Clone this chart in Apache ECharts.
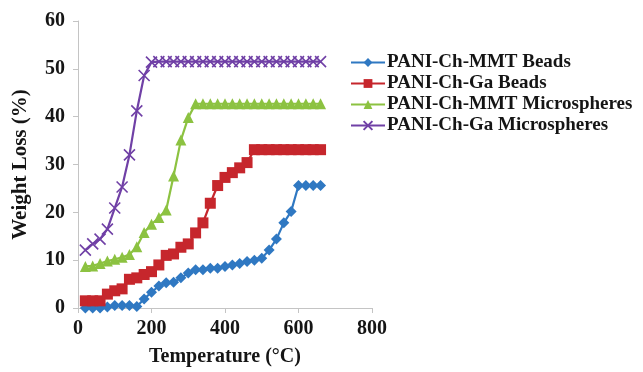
<!DOCTYPE html>
<html>
<head>
<meta charset="utf-8">
<script src="https://cdn.jsdelivr.net/npm/echarts@6/dist/echarts.min.js"></script>
<style>
  html, body { margin: 0; padding: 0; background: #fff; }
  #chart { width: 643px; height: 372px; }
</style>
</head>
<body>
<div id="chart"></div>
<script>
// Temperature steps (°C) shared by all four samples
const temperatures = [20, 40, 60, 80, 100, 120, 140, 160, 180, 200, 220, 240, 260, 280, 300, 320,
  340, 360, 380, 400, 420, 440, 460, 480, 500, 520, 540, 560, 580, 600, 620, 640, 660];

// Weight loss (%) for each sample
const mmtBeads = [0, 0, 0, 0.2, 0.5, 0.5, 0.5, 0.3, 1.9, 3.3, 4.6, 5.3, 5.4, 6.3, 7.3, 8.0,
  8.0, 8.3, 8.3, 8.7, 9.0, 9.3, 9.7, 10.0, 10.4, 12.1, 14.4, 17.8, 20.2, 25.6, 25.6, 25.6, 25.6];
const gaBeads = [1.5, 1.5, 1.5, 2.9, 3.6, 4.0, 6.0, 6.3, 7.0, 7.6, 9.0, 11.0, 11.3, 12.7, 13.4, 15.7,
  17.8, 21.9, 25.6, 27.3, 28.3, 29.3, 30.4, 33.1, 33.1, 33.1, 33.1, 33.1, 33.1, 33.1, 33.1, 33.1, 33.1];
const mmtMicrospheres = [8.7, 8.8, 9.3, 9.8, 10.2, 10.6, 11.2, 12.8, 15.8, 17.5, 18.9, 20.5, 27.6, 35.1, 39.8, 42.7,
  42.7, 42.7, 42.7, 42.7, 42.7, 42.7, 42.7, 42.7, 42.7, 42.7, 42.7, 42.7, 42.7, 42.7, 42.7, 42.7, 42.7];
const gaMicrospheres = [12.1, 13.4, 14.4, 16.5, 20.9, 25.3, 32.0, 41.2, 48.6, 51.4, 51.5, 51.5, 51.5, 51.5, 51.5, 51.5,
  51.5, 51.5, 51.5, 51.5, 51.5, 51.5, 51.5, 51.5, 51.5, 51.5, 51.5, 51.5, 51.5, 51.5, 51.5, 51.5, 51.5];

const seriesNames = ['PANI-Ch-MMT Beads', 'PANI-Ch-Ga Beads', 'PANI-Ch-MMT Microspheres', 'PANI-Ch-Ga Microspheres'];
const xTicks = { min: 0, max: 800, interval: 200 };
const yTicks = { min: 0, max: 60, interval: 10 };

const serif = '"Liberation Serif", "DejaVu Serif", serif';
const crossPath = 'path://M0,0L10,10M10,0L0,10';

function pairs(values) {
  return temperatures.map((t, i) => [t, values[i]]);
}

function lineSeries(name, values, color, symbol, size, extra) {
  return Object.assign({
    name: name,
    type: 'line',
    data: pairs(values),
    symbol: symbol,
    symbolSize: size,
    showAllSymbol: true,
    lineStyle: { color: color, width: 2.2 },
    itemStyle: { color: color },
    emphasis: { disabled: true },
    animation: false
  }, extra || {});
}

const chart = echarts.init(document.getElementById('chart'), null, { renderer: 'canvas' });

chart.setOption({
  backgroundColor: '#ffffff',
  animation: false,
  grid: { left: 78, top: 21, width: 294, height: 295, containLabel: false },
  legend: {
    orient: 'vertical',
    left: 345,
    top: 48,
    itemWidth: 34,
    itemHeight: 11,
    itemGap: 2,
    data: seriesNames,
    textStyle: { fontFamily: serif, fontWeight: 'bold', fontSize: 19, lineHeight: 19, color: '#151515', padding: [0, 0, 0, -3] }
  },
  xAxis: {
    type: 'value',
    min: xTicks.min, max: xTicks.max, interval: xTicks.interval,
    name: 'Temperature (°C)',
    nameLocation: 'middle',
    nameGap: 39,
    nameTextStyle: { fontFamily: serif, fontWeight: 'bold', fontSize: 20, color: '#151515' },
    axisLine: { lineStyle: { color: '#c4c4c4', width: 1 } },
    axisTick: { show: true, length: 5, lineStyle: { color: '#c4c4c4' } },
    axisLabel: { fontFamily: serif, fontWeight: 'bold', fontSize: 20, color: '#151515', margin: 11 },
    splitLine: { show: false }
  },
  yAxis: {
    type: 'value',
    min: yTicks.min, max: yTicks.max, interval: yTicks.interval,
    name: 'Weight Loss (%)',
    nameLocation: 'middle',
    nameGap: 47,
    nameTextStyle: { fontFamily: serif, fontWeight: 'bold', fontSize: 21, color: '#151515' },
    axisLine: { show: true, lineStyle: { color: '#c4c4c4', width: 1 } },
    axisTick: { show: true, length: 5, lineStyle: { color: '#c4c4c4' } },
    axisLabel: { fontFamily: serif, fontWeight: 'bold', fontSize: 20, color: '#151515', margin: 13 },
    splitLine: { show: false }
  },
  series: [
    lineSeries(seriesNames[0], mmtBeads, '#2f78c2', 'diamond', 11),
    lineSeries(seriesNames[1], gaBeads, '#c6262c', 'rect', 11),
    lineSeries(seriesNames[2], mmtMicrospheres, '#8cc241', 'triangle', 11),
    lineSeries(seriesNames[3], gaMicrospheres, '#7040a6', crossPath, 11, {
      itemStyle: { color: 'none', borderColor: '#7040a6', borderWidth: 1.6 }
    })
  ]
});
</script>
</body>
</html>
